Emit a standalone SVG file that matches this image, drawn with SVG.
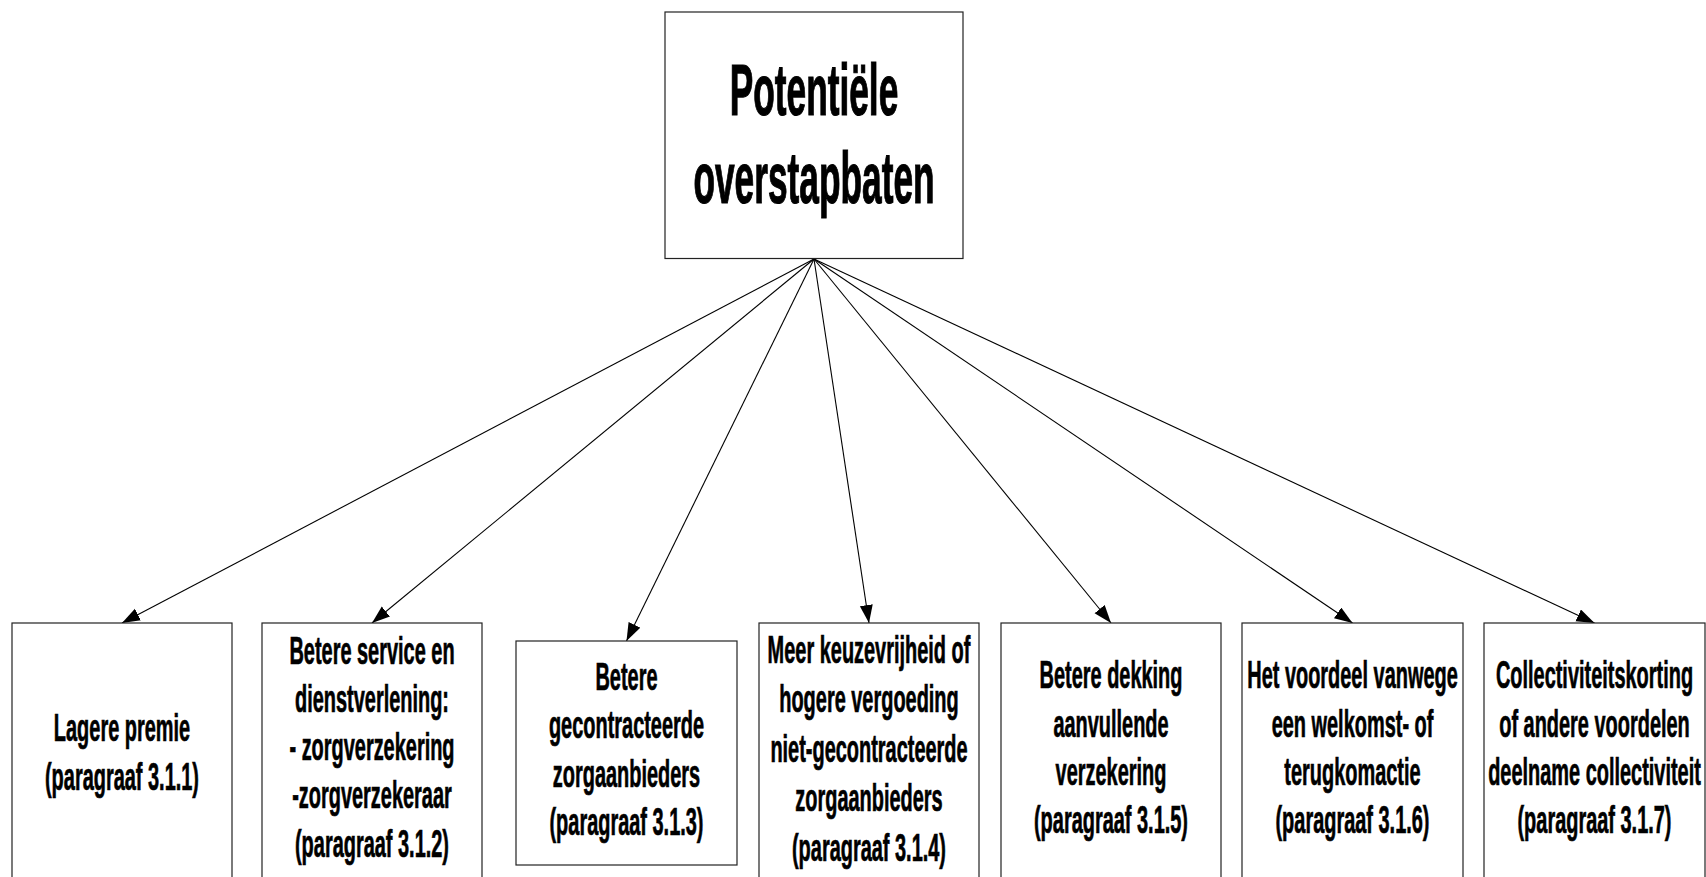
<svg xmlns="http://www.w3.org/2000/svg" width="1706" height="877" viewBox="0 0 1706 877">
<style>
.box{fill:#fff;stroke:#222;stroke-width:1.2}
.t{font-family:"Liberation Sans",Arial,sans-serif;font-weight:bold;fill:#000;stroke:#000;text-anchor:middle}
.big{font-size:72px;stroke-width:1.2}
.sm{font-size:38px;stroke-width:0.7}
.c{stroke:#000;stroke-width:1.1;fill:none;marker-end:url(#ah)}
</style>
<defs>
<marker id="ah" markerUnits="userSpaceOnUse" markerWidth="19" markerHeight="14" refX="18" refY="6.5" orient="auto">
<path d="M0,0 L18,6.5 L0,13 Z" fill="#000"/>
</marker>
</defs>
<rect width="1706" height="877" fill="#fff"/>
<g id="connectors">
<line class="c" x1="814" y1="259" x2="122" y2="623"/>
<line class="c" x1="814" y1="259" x2="372" y2="623"/>
<line class="c" x1="814" y1="259" x2="626.5" y2="641"/>
<line class="c" x1="814" y1="259" x2="869" y2="623"/>
<line class="c" x1="814" y1="259" x2="1111" y2="623"/>
<line class="c" x1="814" y1="259" x2="1352.5" y2="623"/>
<line class="c" x1="814" y1="259" x2="1594.5" y2="623"/>
</g>
<g id="root">
<rect class="box" x="665" y="12" width="298" height="246.5" stroke-width="1.5"/>
<g transform="translate(814 0) scale(0.49 1)">
<text class="t big" x="0" y="115">Potentiële</text>
<text class="t big" x="0" y="203">overstapbaten</text>
</g>
</g>
<g id="n1">
<rect class="box" x="12" y="623" width="220" height="270"/>
<g transform="translate(122 0) scale(0.525 1)">
<text class="t sm" x="0" y="741">Lagere premie</text>
<text class="t sm" x="0" y="790">(paragraaf 3.1.1)</text>
</g>
</g>
<g id="n2">
<rect class="box" x="262" y="623" width="220" height="270"/>
<g transform="translate(372 0) scale(0.525 1)">
<text class="t sm" x="0" y="664">Betere service en</text>
<text class="t sm" x="0" y="712">dienstverlening:</text>
<text class="t sm" x="0" y="760">- zorgverzekering</text>
<text class="t sm" x="0" y="808">-zorgverzekeraar</text>
<text class="t sm" x="0" y="857">(paragraaf 3.1.2)</text>
</g>
</g>
<g id="n3">
<rect class="box" x="516" y="641" width="221" height="224"/>
<g transform="translate(626.5 0) scale(0.525 1)">
<text class="t sm" x="0" y="690">Betere</text>
<text class="t sm" x="0" y="738">gecontracteerde</text>
<text class="t sm" x="0" y="787">zorgaanbieders</text>
<text class="t sm" x="0" y="835">(paragraaf 3.1.3)</text>
</g>
</g>
<g id="n4">
<rect class="box" x="759" y="623" width="220" height="270"/>
<g transform="translate(869 0) scale(0.525 1)">
<text class="t sm" x="0" y="663">Meer keuzevrijheid of</text>
<text class="t sm" x="0" y="712.5">hogere vergoeding</text>
<text class="t sm" x="0" y="762">niet-gecontracteerde</text>
<text class="t sm" x="0" y="811.5">zorgaanbieders</text>
<text class="t sm" x="0" y="861">(paragraaf 3.1.4)</text>
</g>
</g>
<g id="n5">
<rect class="box" x="1001" y="623" width="220" height="270"/>
<g transform="translate(1111 0) scale(0.525 1)">
<text class="t sm" x="0" y="688">Betere dekking</text>
<text class="t sm" x="0" y="737">aanvullende</text>
<text class="t sm" x="0" y="785">verzekering</text>
<text class="t sm" x="0" y="833">(paragraaf 3.1.5)</text>
</g>
</g>
<g id="n6">
<rect class="box" x="1242" y="623" width="221" height="270"/>
<g transform="translate(1352.5 0) scale(0.525 1)">
<text class="t sm" x="0" y="688">Het voordeel vanwege</text>
<text class="t sm" x="0" y="737">een welkomst- of</text>
<text class="t sm" x="0" y="785">terugkomactie</text>
<text class="t sm" x="0" y="833">(paragraaf 3.1.6)</text>
</g>
</g>
<g id="n7">
<rect class="box" x="1484" y="623" width="221" height="270"/>
<g transform="translate(1594.5 0) scale(0.525 1)">
<text class="t sm" x="0" y="688">Collectiviteitskorting</text>
<text class="t sm" x="0" y="737">of andere voordelen</text>
<text class="t sm" x="0" y="785">deelname collectiviteit</text>
<text class="t sm" x="0" y="833">(paragraaf 3.1.7)</text>
</g>
</g>
</svg>
